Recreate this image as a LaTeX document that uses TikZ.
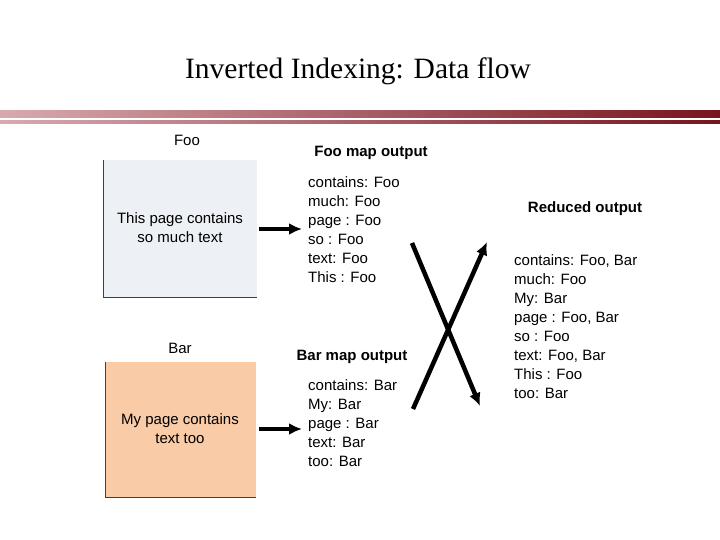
\documentclass[tikz,border=0pt]{standalone}
\usepackage{fontspec}
\setmainfont{Liberation Sans}
\newfontfamily\titlefont{Liberation Serif}
\definecolor{barred}{RGB}{120,20,30}
\definecolor{barpink}{RGB}{215,170,175}
\definecolor{pageblue}{RGB}{237,240,244}
\definecolor{pageorange}{RGB}{249,203,167}
\begin{document}
\begin{tikzpicture}[x=1pt,y=-1pt,
  lbl/.style={font=\fontsize{15}{19}\selectfont, align=left, anchor=north west, inner sep=0},
  hd/.style={font=\fontsize{15}{16}\selectfont\bfseries, inner sep=0},
  fat/.style={line width=4.5pt, -{Latex[length=13pt,width=12pt]}},
  edge/.style={draw=black!75, line width=0.8pt}]
\usetikzlibrary{arrows.meta}
\useasboundingbox (0,0) rectangle (720,540);
\node[font=\titlefont\fontsize{29.5}{32}\selectfont] (title) at (358,71) {Inverted Indexing: Data flow};
\shade[left color=barpink, right color=barred] (0,111) rectangle (720,118);
\shade[left color=barpink, right color=barred] (0,121) rectangle (720,123.5);
% Foo page
\fill[pageblue] (103,160) rectangle (257,297);
\draw[edge] (103,160) -- (103,297) -- (257,297);
\node[font=\fontsize{15}{16}\selectfont] (foo) at (187,140) {Foo};
\node[font=\fontsize{15}{19}\selectfont, align=center] (footext) at (180,228) {This page contains\\so much text};
% Bar page
\fill[pageorange] (105,362) rectangle (256,497);
\draw[edge] (105,362) -- (105,497) -- (256,497);
\node[font=\fontsize{15}{16}\selectfont] (bar) at (180,348) {Bar};
\node[font=\fontsize{15}{19}\selectfont, align=center] (bartext) at (180,429) {My page contains\\text too};
% map outputs
\node[hd] (fooh) at (371,153) {Foo map output};
\node[lbl] (fooout) at (308,176) {contains: Foo\\much: Foo\\page : Foo\\so : Foo\\text: Foo\\This : Foo};
\node[hd] (barh) at (352,357) {Bar map output};
\node[lbl] (barout) at (308,379) {contains: Bar\\My: Bar\\page : Bar\\text: Bar\\too: Bar};
\node[hd] (redh) at (585,209) {Reduced output};
\node[lbl] (redout) at (514,254) {contains: Foo, Bar\\much: Foo\\My: Bar\\page : Foo, Bar\\so : Foo\\text: Foo, Bar\\This : Foo\\too: Bar};
% arrows
\coordinate (fa) at (259,229); \coordinate (fb) at (302,229);
\coordinate (ba) at (259,429); \coordinate (bb) at (302,429);
\draw[fat] (fa) -- (fb);
\draw[fat] (ba) -- (bb);
\coordinate (x1s) at (412,243); \coordinate (x1e) at (480,406);
\coordinate (x2s) at (413,409); \coordinate (x2e) at (487,242);
\draw[fat] (x1s) -- (x1e);
\draw[fat] (x2s) -- (x2e);
\end{tikzpicture}
\end{document}
